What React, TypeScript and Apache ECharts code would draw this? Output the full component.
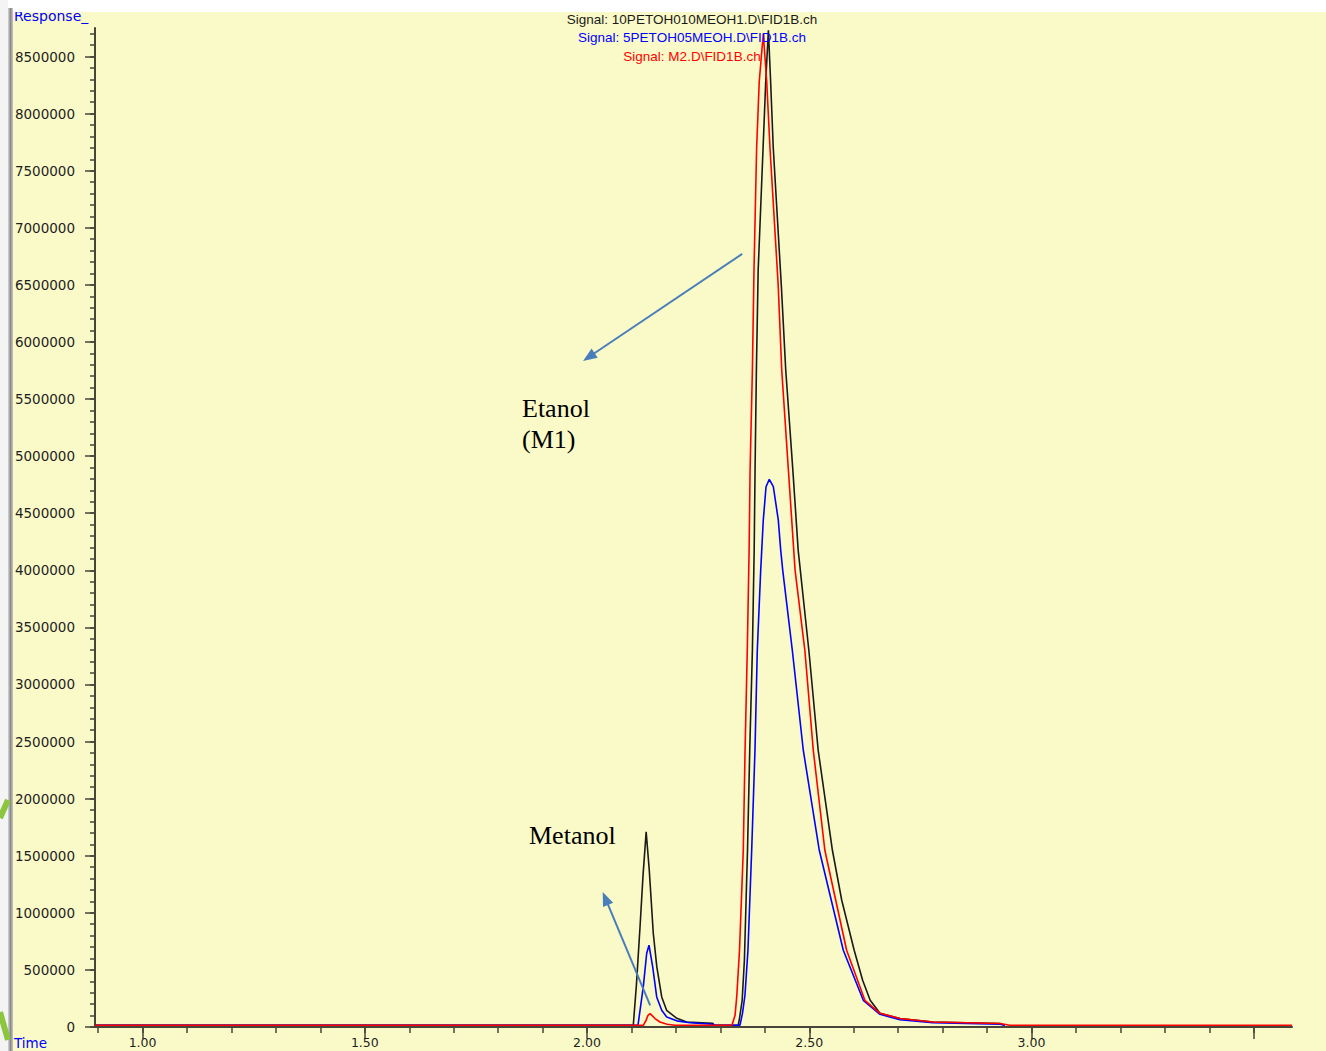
import React, { useEffect, useRef } from "react";
import * as echarts from "echarts";

// ---------- data ----------
const X_MIN = 0.893;
const X_MAX = 3.586;
const Y_MIN = 0;
const Y_MAX = 8750000;

// 10PETOH010MEOH1 (black)
const blackTime = [0.893, 2.104, 2.111, 2.119, 2.126, 2.133, 2.140, 2.149, 2.157, 2.168, 2.179, 2.202, 2.224, 2.283, 2.286, 2.340, 2.343, 2.349, 2.354, 2.361, 2.366, 2.372, 2.376, 2.378, 2.381, 2.385, 2.396, 2.402, 2.408, 2.413, 2.419, 2.437, 2.447, 2.463, 2.475, 2.499, 2.520, 2.552, 2.573, 2.601, 2.620, 2.637, 2.659, 2.704, 2.778, 2.929, 2.940];
const blackResp = [15000, 15000, 365000, 865000, 1330000, 1709000, 1373000, 821000, 526000, 263000, 146000, 76000, 44000, 32000, 15000, 15000, 76000, 234000, 584000, 1548000, 2424000, 3300000, 4177000, 4878000, 5754000, 6630000, 7697000, 8281000, 8730000, 8281000, 7697000, 6500000, 5754000, 4878000, 4177000, 3300000, 2424000, 1548000, 1110000, 672000, 410000, 234000, 120000, 74000, 44000, 30000, 15000];

// 5PETOH05MEOH (blue)
const blueTime = [0.893, 2.1146, 2.1265, 2.1342, 2.1394, 2.1477, 2.1567, 2.168, 2.1792, 2.2017, 2.232, 2.2834, 2.288, 2.344, 2.3497, 2.3553, 2.362, 2.3704, 2.3778, 2.383, 2.3907, 2.3965, 2.4027, 2.410, 2.4191, 2.4303, 2.4357, 2.4402, 2.4618, 2.4865, 2.5225, 2.5765, 2.6215, 2.659, 2.704, 2.778, 2.929, 2.940];
const blueResp = [15000, 15000, 351000, 646000, 716000, 526000, 263000, 146000, 88000, 54000, 37000, 24000, 15000, 15000, 120000, 278000, 672000, 1548000, 2424000, 3300000, 4002000, 4440000, 4732000, 4797000, 4732000, 4440000, 4177000, 4002000, 3300000, 2424000, 1548000, 672000, 234000, 111000, 63000, 37000, 24000, 15000];

// M2 (red)
const redTime = [0.893, 2.1265, 2.133, 2.137, 2.142, 2.153, 2.164, 2.180, 2.198, 2.326, 2.333, 2.337, 2.343, 2.3515, 2.3555, 2.3605, 2.3646, 2.3668, 2.372, 2.3756, 2.3815, 2.3874, 2.3965, 2.4042, 2.4116, 2.430, 2.438, 2.453, 2.468, 2.490, 2.509, 2.535, 2.584, 2.625, 2.659, 2.704, 2.778, 2.929, 2.951, 3.586];
const redResp = [15000, 15000, 59000, 102000, 117000, 74000, 44000, 24000, 15000, 15000, 102000, 278000, 672000, 1548000, 2424000, 3300000, 4177000, 4878000, 5754000, 6630000, 7697000, 8281000, 8700000, 8281000, 7697000, 6500000, 5754000, 4878000, 4002000, 3300000, 2424000, 1548000, 672000, 234000, 120000, 74000, 44000, 30000, 15000, 15000];

const signalNames = [
  "Signal: 10PETOH010MEOH1.D\\FID1B.ch",
  "Signal: 5PETOH05MEOH.D\\FID1B.ch",
  "Signal: M2.D\\FID1B.ch",
];
const signalColors = ["#1a1a1a", "#0000ff", "#ff0000"];

// axis ticks / labels
const xMajorTicks = [1.0, 1.5, 2.0, 2.5, 3.0, 3.5];
const xLabelValues = [1.0, 1.5, 2.0, 2.5, 3.0];
const xMinorTicks = [0.9, 1.0, 1.1, 1.2, 1.3, 1.4, 1.5, 1.6, 1.7, 1.8, 1.9, 2.0, 2.1, 2.2, 2.3, 2.4, 2.5, 2.6, 2.7, 2.8, 2.9, 3.0, 3.1, 3.2, 3.3, 3.4, 3.5];
const yMajorTicks = [0, 500000, 1000000, 1500000, 2000000, 2500000, 3000000, 3500000, 4000000, 4500000, 5000000, 5500000, 6000000, 6500000, 7000000, 7500000, 8000000, 8500000];
const yMinorStep = 100000;
const yMinorTop = 8700000;

// annotations (data coordinates)
const arrowLines = [
  { from: [2.349, 6771000], to: [2.004, 5868000] },
  { from: [2.142, 190000], to: [2.0413, 1126000] },
];

const AXIS_COLOR = "#45453a";

function zip(t: number[], v: number[]) {
  return t.map((x, i) => [x, v[i]]);
}

export default function App() {
  const ref = useRef<HTMLDivElement>(null);

  useEffect(() => {
    document.body.style.margin = "0";
    document.body.style.overflow = "hidden";
    if (!ref.current) return;
    const chart = echarts.init(ref.current, undefined, { renderer: "svg" });

    const yMinorTicks: number[] = [];
    for (let v = 0; v <= yMinorTop; v += yMinorStep) yMinorTicks.push(v);

    const tickStyle = { color: AXIS_COLOR, width: 1.5 };
    const labelFont = { fontFamily: "DejaVu Sans", fontSize: 13.5, color: "#1e1e1e" };

    const lineSeries = (name: string, data: number[][], color: string) => ({
      name,
      type: "line",
      xAxisIndex: 0,
      yAxisIndex: 0,
      data,
      showSymbol: false,
      symbol: "none",
      smooth: false,
      lineStyle: { color, width: 1.6 },
      emphasis: { disabled: true },
      silent: true,
    });

    const option: any = {
      animation: false,
      backgroundColor: "#fafac8",
      grid: { left: 95, right: 34, top: 28, bottom: 24, containLabel: false, outerBoundsMode: "none" },
      xAxis: [
        {
          type: "value",
          min: X_MIN,
          max: X_MAX,
          position: "bottom",
          axisLine: { show: true, onZero: false, lineStyle: { color: AXIS_COLOR, width: 2 } },
          axisTick: { show: true, customValues: xMajorTicks, length: 12, lineStyle: tickStyle },
          axisLabel: {
            show: true,
            customValues: xLabelValues,
            formatter: (v: number) => v.toFixed(2),
            margin: 9,
            fontFamily: "DejaVu Sans",
            fontSize: 12.5,
            color: "#1e1e1e",
          },
          splitLine: { show: false },
        },
        {
          type: "value",
          min: X_MIN,
          max: X_MAX,
          position: "bottom",
          axisLine: { show: false, onZero: false },
          axisTick: { show: true, customValues: xMinorTicks, length: 6, lineStyle: tickStyle },
          axisLabel: { show: false },
          splitLine: { show: false },
        },
      ],
      yAxis: [
        {
          type: "value",
          min: Y_MIN,
          max: Y_MAX,
          position: "left",
          axisLine: { show: true, onZero: false, lineStyle: { color: AXIS_COLOR, width: 2 } },
          axisTick: { show: true, customValues: yMajorTicks, length: 10, lineStyle: tickStyle },
          axisLabel: {
            show: true,
            customValues: yMajorTicks,
            formatter: (v: number) => String(v),
            margin: 20,
            ...labelFont,
          },
          splitLine: { show: false },
        },
        {
          type: "value",
          min: Y_MIN,
          max: Y_MAX,
          position: "left",
          axisLine: { show: false, onZero: false },
          axisTick: { show: true, customValues: yMinorTicks, length: 5, lineStyle: tickStyle },
          axisLabel: { show: false },
          splitLine: { show: false },
        },
      ],
      series: [
        lineSeries(signalNames[0], zip(blackTime, blackResp), signalColors[0]),
        lineSeries(signalNames[1], zip(blueTime, blueResp), signalColors[1]),
        lineSeries(signalNames[2], zip(redTime, redResp), signalColors[2]),
        {
          name: "arrows",
          type: "line",
          xAxisIndex: 0,
          yAxisIndex: 0,
          data: [],
          silent: true,
          markLine: {
            silent: true,
            symbol: ["none", "triangle"],
            symbolSize: [11, 14],
            precision: 6,
            lineStyle: { color: "#4a7ebb", width: 2, type: "solid" },
            label: { show: false },
            emphasis: { disabled: true },
            data: arrowLines.map((a) => [{ coord: a.from }, { coord: a.to }]),
          },
        },
      ],
      graphic: [
        // signal legend lines
        ...signalNames.map((s, i) => ({
          type: "text",
          x: 692,
          y: 19 + i * 18.5,
          z: 50,
          style: {
            text: s,
            fill: signalColors[i],
            font: "13.5px 'Liberation Sans', Arial, sans-serif",
            textAlign: "center",
            textVerticalAlign: "middle",
          },
        })),
        {
          type: "text",
          x: 14,
          y: 16,
          z: 50,
          style: { text: "Response_", fill: "#0000ff", font: "14px 'DejaVu Sans', sans-serif", textVerticalAlign: "middle" },
        },
        {
          type: "text",
          x: 14,
          y: 1043,
          z: 50,
          style: { text: "Time", fill: "#0000ff", font: "13.5px 'DejaVu Sans', sans-serif", textVerticalAlign: "middle" },
        },
        // annotation texts
        {
          type: "text",
          x: 522,
          y: 408,
          z: 50,
          style: { text: "Etanol", fill: "#000", font: "26px 'Liberation Serif', 'Times New Roman', serif", textVerticalAlign: "middle" },
        },
        {
          type: "text",
          x: 522,
          y: 439,
          z: 50,
          style: { text: "(M1)", fill: "#000", font: "26px 'Liberation Serif', 'Times New Roman', serif", textVerticalAlign: "middle" },
        },
        {
          type: "text",
          x: 529,
          y: 835,
          z: 50,
          style: { text: "Metanol", fill: "#000", font: "26px 'Liberation Serif', 'Times New Roman', serif", textVerticalAlign: "middle" },
        },
        // window frame pieces
        { type: "rect", z: 100, shape: { x: 0, y: 0, width: 1326, height: 12 }, style: { fill: "#ffffff" } },
        { type: "rect", z: 100, shape: { x: 0, y: 0, width: 8, height: 1051 }, style: { fill: "#f4f4f4" } },
        {
          type: "rect",
          z: 100,
          shape: { x: 8, y: 8, width: 5, height: 1043 },
          style: {
            fill: new echarts.graphic.LinearGradient(0, 0, 1, 0, [
              { offset: 0, color: "#d8d8d8" },
              { offset: 0.5, color: "#8a8a8a" },
              { offset: 1, color: "#c8c8c8" },
            ]),
          },
        },
        { type: "line", z: 101, shape: { x1: 0, y1: 818, x2: 8, y2: 800 }, style: { stroke: "#8cc63e", lineWidth: 6 } },
        { type: "line", z: 101, shape: { x1: 0, y1: 1012, x2: 8, y2: 1040 }, style: { stroke: "#8cc63e", lineWidth: 6 } },
      ],
    };

    chart.setOption(option);
    return () => chart.dispose();
  }, []);

  return <div ref={ref} style={{ width: 1326, height: 1051 }} />;
}
